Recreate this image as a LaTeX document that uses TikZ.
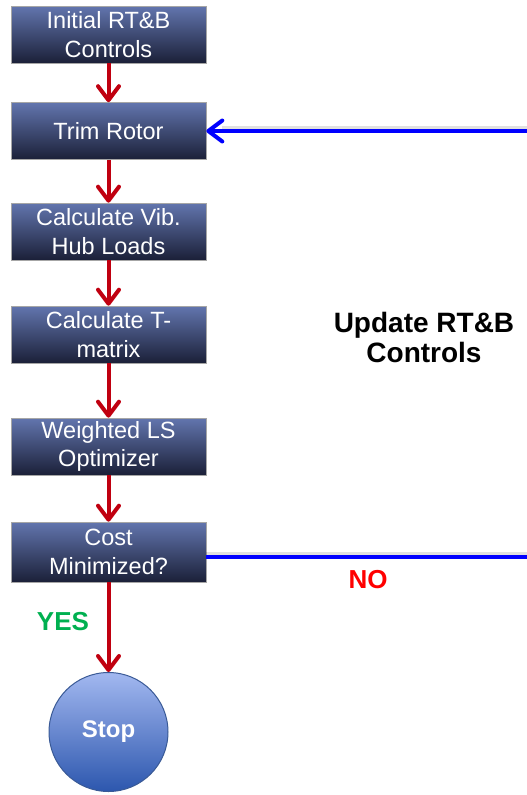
\documentclass[tikz,border=0pt]{standalone}
\usepackage{fontspec}
\setmainfont{Liberation Sans}
\usetikzlibrary{arrows.meta}
\definecolor{boxtop}{HTML}{6275AE}
\definecolor{boxbot}{HTML}{1B2038}
\definecolor{stoptop}{HTML}{A3B8F0}
\definecolor{stopbot}{HTML}{2C57AE}
\definecolor{stopline}{HTML}{3A5A96}
\definecolor{flowred}{HTML}{C00010}
\definecolor{loopblue}{HTML}{0000FF}
\definecolor{yesgreen}{HTML}{00B050}
\tikzset{
  x=1pt, y=-1pt,
  stepbox/.style={draw=gray!70, line width=0.6pt, top color=boxtop, bottom color=boxbot,
    minimum width=195pt, minimum height=57pt, inner sep=0pt,
    text=white, font=\fontsize{23.5}{28.5}\selectfont, align=center},
  stopnode/.style={circle, draw=stopline, line width=1pt, top color=stoptop, bottom color=stopbot,
    minimum size=119pt, inner sep=0pt, text=white, font=\fontsize{24}{28}\selectfont\bfseries},
  barb/.style={-{Straight Barb[length=14pt,width=21pt,line cap=round,line join=round]}},
  flow/.style={draw=flowred, line width=4pt, barb},
  loop/.style={draw=loopblue, line width=4pt},
  loopshade/.style={draw=black, opacity=0.12, line width=4pt},
  tag/.style={font=\fontsize{26}{30}\selectfont\bfseries},
}
\begin{document}
\begin{tikzpicture}
\useasboundingbox (0,0) rectangle (527,795);
% process steps
\node[stepbox] (init) at (108.5,34.5) {Initial RT\&B\\Controls};
\node[stepbox] (trim) at (108.5,131) {Trim Rotor};
\node[stepbox] (hub) at (108.5,231.5) {Calculate Vib.\\Hub Loads};
\node[stepbox] (tmat) at (108.5,334.5) {Calculate T-\\matrix};
\node[stepbox] (opt) at (108.5,446.5) {Weighted LS\\Optimizer};
\node[stepbox, minimum height=60pt] (cost) at (108.5,552) {Cost\\Minimized?};
\node[stopnode] (stop) at (108.5,732) {Stop};
% main flow
\draw[flow] (init) -- (trim);
\draw[flow] (trim) -- (hub);
\draw[flow] (hub) -- (tmat);
\draw[flow] (tmat) -- (opt);
\draw[flow] (opt) -- (cost);
\draw[flow] (cost) -- (stop);
% feedback loop (its return leg runs just past the right edge)
\coordinate (cr) at (531,557);
\coordinate (tr) at (531,131);
\draw[loopshade] ([yshift=3pt]cost.east |- cr) -- ([yshift=3pt]cr);
\draw[loopshade] ([yshift=3pt]tr) -- ([xshift=16pt,yshift=3pt]trim.east);
\draw[loop] (cost.east |- cr) -- (cr) -- (tr);
\draw[loop, barb] (tr) -- (trim.east);
% labels
\node[tag, font=\fontsize{28}{30}\selectfont\bfseries, align=center] (upd) at (424,337) {Update RT\&B\\Controls};
\node[tag, text=red] (no) at (368,580) {NO};
\node[tag, text=yesgreen] (yes) at (63,622) {YES};
\end{tikzpicture}
\end{document}
